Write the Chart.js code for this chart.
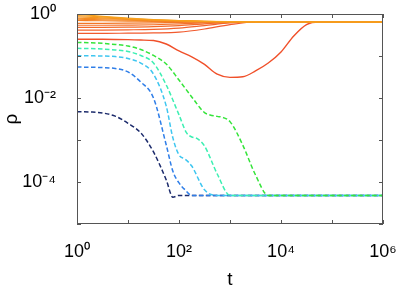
<!DOCTYPE html>
<html>
<head>
<meta charset="utf-8">
<script src="https://cdn.jsdelivr.net/npm/chart.js@4.4.1/dist/chart.umd.min.js"></script>
<style>
html,body{margin:0;padding:0;background:#fff;}
#wrap{width:399px;height:286px;position:relative;}
</style>
</head>
<body>
<div id="wrap"><canvas id="c"></canvas></div>
<script>
// ---- axis ticks ----
const xTicks = [1, 10, 100, 1e3, 1e4, 1e5, 1e6];
const xTickLabels = ['10⁰', '', '10²', '', '10⁴', '', '10⁶'];
const yTicks = [1e-5, 1e-4, 1e-3, 1e-2, 1e-1, 1];
const yTickLabels = ['', '10⁻⁴', '', '10⁻²', '', '10⁰'];

// ---- orange (solid) family, common time grid ----
const orangeT = [1, 3.162, 10, 31.62, 100, 316.2, 1000, 3162, 1e4, 1e5, 1e6];
const orange1  = [0.99, 0.88, 0.80, 0.74, 0.70, 0.67, 0.655, 0.647, 0.645, 0.645, 0.645];
const orange2  = [0.92, 0.85, 0.78, 0.73, 0.695, 0.668, 0.654, 0.647, 0.645, 0.645, 0.645];
const orange3  = [0.86, 0.81, 0.76, 0.72, 0.69, 0.665, 0.653, 0.646, 0.645, 0.645, 0.645];
const orange4  = [0.80, 0.77, 0.74, 0.71, 0.685, 0.662, 0.651, 0.646, 0.645, 0.645, 0.645];
const orange5  = [0.75, 0.73, 0.71, 0.69, 0.675, 0.658, 0.65, 0.645, 0.645, 0.645, 0.645];
const orange6  = [0.70, 0.69, 0.68, 0.67, 0.66, 0.652, 0.647, 0.645, 0.645, 0.645, 0.645];
const orange7  = [0.60, 0.60, 0.605, 0.615, 0.63, 0.64, 0.645, 0.645, 0.645, 0.645, 0.645];
const orange8  = [0.54, 0.54, 0.545, 0.555, 0.58, 0.615, 0.64, 0.645, 0.645, 0.645, 0.645];
const orange9  = [0.48, 0.48, 0.485, 0.50, 0.53, 0.585, 0.635, 0.645, 0.645, 0.645, 0.645];
const orange10 = [0.415, 0.415, 0.42, 0.43, 0.46, 0.53, 0.615, 0.645, 0.645, 0.645, 0.645];
const orange11 = [0.345, 0.345, 0.35, 0.355, 0.37, 0.44, 0.56, 0.645, 0.645, 0.645, 0.645];

// ---- red (solid, with the dip) ----
const redT   = [1, 1.778, 3.162, 5.623, 10, 17.78, 31.62, 56.23, 100, 177.8, 316.2, 562.3, 1000, 1778, 3162, 5623, 1e4, 17783, 31623, 56234, 1e5, 1e6];
const redRho = [0.251, 0.251, 0.25, 0.248, 0.245, 0.24, 0.234, 0.193, 0.132, 0.095, 0.063, 0.037, 0.031, 0.032, 0.044, 0.068, 0.125, 0.30, 0.56, 0.645, 0.645, 0.645];

// ---- dashed family ----
const greenT   = [1, 1.778, 3.162, 5.623, 10, 17.78, 31.62, 56.23, 100, 177.8, 316.2, 407, 562.3, 724, 1000, 1778, 3162, 5623, 1e4, 1e5, 1e6];
const greenRho = [0.21, 0.207, 0.2, 0.188, 0.173, 0.143, 0.103, 0.0645, 0.0268, 0.0106, 4.5e-3, 3.95e-3, 3.65e-3, 3.45e-3, 2.74e-3, 7.6e-4, 1.47e-4, 4.8e-5, 4.8e-5, 4.8e-5, 4.8e-5];

const aquaT   = [1, 1.778, 3.162, 5.623, 10, 17.78, 31.62, 56.23, 100, 141, 177.8, 224, 316.2, 562.3, 1000, 1e4, 1e6];
const aquaRho = [0.152, 0.151, 0.147, 0.139, 0.128, 0.103, 0.068, 0.0204, 3.96e-3, 1.47e-3, 1.18e-3, 1.09e-3, 7.2e-4, 1.55e-4, 4.8e-5, 4.8e-5, 4.8e-5];

const cyanT   = [1, 1.778, 3.162, 5.623, 10, 17.78, 31.62, 56.23, 75.9, 100, 131.8, 177.8, 316.2, 562.3, 1e4, 1e6];
const cyanRho = [0.1017, 0.101, 0.1, 0.097, 0.087, 0.068, 0.037, 6.4e-3, 1.12e-3, 4.4e-4, 3.5e-4, 2.4e-4, 6.5e-5, 4.8e-5, 4.8e-5, 4.8e-5];

const blueT   = [1, 1.778, 3.162, 5.623, 10, 17.78, 31.62, 56.23, 75.9, 100, 131.8, 177.8, 1000, 1e6];
const blueRho = [0.0547, 0.054, 0.053, 0.0504, 0.0417, 0.024, 0.01, 7.6e-4, 1.8e-4, 9.5e-5, 6.5e-5, 4.8e-5, 4.8e-5, 4.8e-5];

const navyT   = [1, 1.778, 3.162, 5.623, 10, 17.78, 31.62, 56.23, 75.9, 100, 1000, 1e6];
const navyRho = [4.72e-3, 4.64e-3, 4.4e-3, 3.7e-3, 2.5e-3, 1.48e-3, 5.2e-4, 1.12e-4, 4.35e-5, 4.8e-5, 4.8e-5, 4.8e-5];

// ---- assemble ----
function pts(t, r){ return t.map((v, i) => ({x: v, y: r[i]})); }

const orangeSeries = [orange1, orange2, orange3, orange4, orange5, orange6, orange7, orange8, orange9, orange10, orange11];
const orangeColors = ['#f7a11c', '#f69b1d', '#f6941e', '#f58d20', '#f58622', '#f47f24', '#f37726', '#f37028', '#f2692a', '#f2622c', '#f15a2e'];

const datasets = [];
orangeSeries.forEach((s, i) => {
  datasets.push({data: pts(orangeT, s), borderColor: orangeColors[i], borderWidth: 1.2});
});
datasets.push({data: pts(redT, redRho), borderColor: '#f0502a', borderWidth: 1.4});

const dashedDefs = [
  [greenT, greenRho, '#35e43a'],
  [aquaT, aquaRho, '#3cefb2'],
  [cyanT, cyanRho, '#3ec6f0'],
  [blueT, blueRho, '#2f7ee8'],
  [navyT, navyRho, '#1c2b6c']
];
dashedDefs.forEach(d => {
  datasets.push({data: pts(d[0], d[1]), borderColor: d[2], borderWidth: 1.5, borderDash: [4.5, 2.5]});
});

const frameTicks = {
  id: 'frameTicks',
  afterDraw(chart) {
    const {ctx, chartArea: a, scales: {x, y}} = chart;
    ctx.save();
    ctx.strokeStyle = '#555';
    ctx.lineWidth = 1;
    ctx.strokeRect(Math.round(a.left) + 0.5, Math.round(a.top) + 0.5, Math.round(a.right - a.left) - 1, Math.round(a.bottom - a.top) - 1);
    ctx.beginPath();
    xTicks.forEach(v => {
      const px = Math.round(x.getPixelForValue(v)) + 0.5;
      ctx.moveTo(px, a.bottom); ctx.lineTo(px, a.bottom - 4);
      ctx.moveTo(px, a.top); ctx.lineTo(px, a.top + 4);
    });
    yTicks.forEach(v => {
      const py = Math.round(y.getPixelForValue(v)) + 0.5;
      ctx.moveTo(a.left, py); ctx.lineTo(a.left + 4, py);
      ctx.moveTo(a.right, py); ctx.lineTo(a.right - 4, py);
    });
    ctx.stroke();
    ctx.restore();
  }
};

const font = 'Liberation Sans, Arial, sans-serif';

new Chart(document.getElementById('c'), {
  type: 'line',
  data: {datasets},
  plugins: [frameTicks],
  options: {
    responsive: true,
    maintainAspectRatio: false,
    animation: false,
    layout: {padding: {top: 14, right: 16, left: 0, bottom: 0}},
    elements: {
      point: {radius: 0},
      line: {cubicInterpolationMode: 'monotone', fill: false}
    },
    plugins: {legend: {display: false}, tooltip: {enabled: false}},
    scales: {
      x: {
        type: 'logarithmic',
        min: 1, max: 1e6,
        grid: {display: false},
        border: {display: false},
        afterBuildTicks: s => { s.ticks = xTicks.map(v => ({value: v})); },
        afterFit: s => { s.height = 62; s.paddingLeft = 0; s.paddingRight = 0; },
        ticks: {
          autoSkip: false, maxRotation: 0, padding: 9,
          color: '#000', font: {family: font, size: 18},
          callback: (v, i) => xTickLabels[i]
        },
        title: {display: true, text: 't', color: '#000', font: {family: font, size: 19, lineHeight: 1}, padding: {top: 0, bottom: -3}}
      },
      y: {
        type: 'logarithmic',
        min: 1e-5, max: 1,
        grid: {display: false},
        border: {display: false},
        afterBuildTicks: s => { s.ticks = yTicks.map(v => ({value: v})); },
        afterFit: s => { s.width = 77; s.paddingTop = 0; s.paddingBottom = 0; },
        ticks: {
          autoSkip: false, padding: 13,
          color: '#000', font: {family: font, size: 18},
          callback: (v, i) => yTickLabels[i]
        },
        title: {display: true, text: 'ρ', color: '#000', font: {family: font, size: 19}, padding: {top: 0, bottom: 0}}
      }
    }
  }
});
</script>
</body>
</html>
